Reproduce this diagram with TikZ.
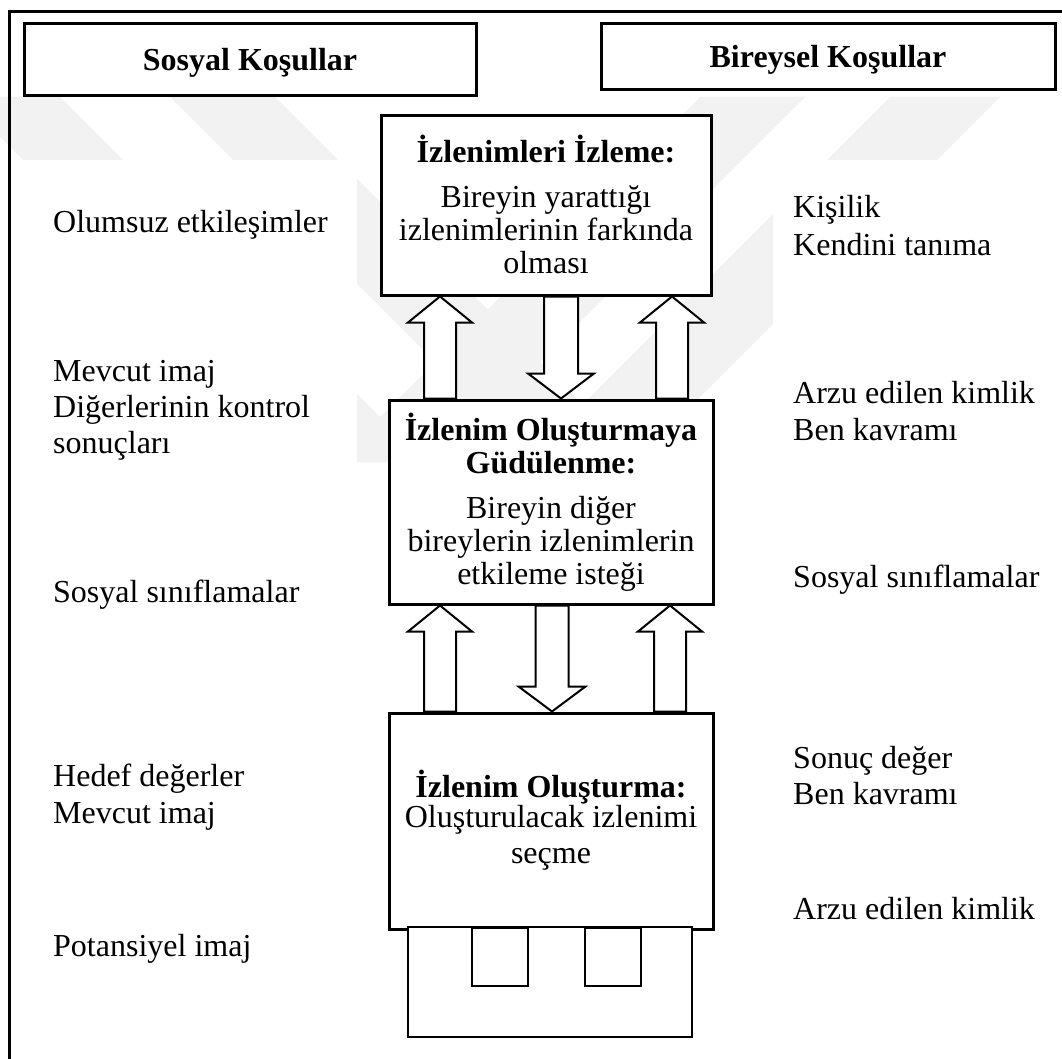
\documentclass[tikz,border=0pt]{standalone}
\usepackage{fontspec}
\setmainfont{Liberation Serif}
\usetikzlibrary{calc}

\tikzset{
  frameline/.style={line width=3pt},
  headbox/.style={draw, line width=3pt, fill=white, inner sep=0pt},
  stagebox/.style={draw, line width=3pt, fill=white, inner sep=0pt},
  stagetext/.style={align=center, inner sep=0pt, font=\fontsize{32}{33}\selectfont},
  sidelabel/.style={anchor=base west, inner sep=0pt, font=\fontsize{32}{36}\selectfont},
  headtext/.style={anchor=base, inner sep=0pt, font=\fontsize{32}{36}\selectfont\bfseries},
  blockarrow/.style={draw, line width=2pt, fill=white, line join=miter},
  basebox/.style={draw, line width=2pt, fill=white},
  wmark/.style={fill=black!5, draw=none},
}

% hollow block arrow pointing up: #1 base point, #2 tip point,
% #3 half shaft width, #4 half head width, #5 head length
\newcommand\blkup[5]{%
  \draw[blockarrow] let \p1=(#1), \p2=(#2) in
    (\x1-#3,\y1) -- (\x1-#3,\y2-#5) -- (\x1-#4,\y2-#5) -- (\x1,\y2)
    -- (\x1+#4,\y2-#5) -- (\x1+#3,\y2-#5) -- (\x1+#3,\y1) -- cycle;}
% hollow block arrow pointing down
\newcommand\blkdown[5]{%
  \draw[blockarrow] let \p1=(#1), \p2=(#2) in
    (\x1-#3,\y1) -- (\x1-#3,\y2+#5) -- (\x1-#4,\y2+#5) -- (\x1,\y2)
    -- (\x1+#4,\y2+#5) -- (\x1+#3,\y2+#5) -- (\x1+#3,\y1) -- cycle;}

\begin{document}
\begin{tikzpicture}[x=1pt, y=-1pt]
\useasboundingbox (0,0) rectangle (1062,1059);

% faint diagonal background watermark
\begin{scope}
  \clip (0,97) rectangle (1062,160) (357,97) rectangle (773,462);
  \fill[wmark] (-40,97) -- (60,97) -- (425,462) -- (325,462) -- cycle;
  \fill[wmark] (170,97) -- (275,97) -- (640,462) -- (535,462) -- cycle;
  \fill[wmark] (700,97) -- (805,97) -- (440,462) -- (335,462) -- cycle;
  \fill[wmark] (890,97) -- (1000,97) -- (635,462) -- (525,462) -- cycle;
\end{scope}

% outer frame (left and top edges)
\draw[frameline] (9,1059) -- (9,12) -- (1062,12);

% column headers
\node[headbox, minimum width=452pt, minimum height=72pt] (hsoc) at (250,60) {};
\node[headtext] (hsoct) at (250,71) {Sosyal Koşullar};
\node[headbox, minimum width=454pt, minimum height=66pt] (hind) at (828,57) {};
\node[headtext] (hindt) at (828,68) {Bireysel Koşullar};

% three stages
\node[stagebox, minimum width=330pt, minimum height=179pt] (top) at (546,205.5) {};
\node[stagetext] (topt) at (546,204) {\textbf{İzlenimleri İzleme:}\\[12pt]
  Bireyin yarattığı\\ izlenimlerinin farkında\\ olması};

\node[stagebox, minimum width=324pt, minimum height=204pt] (mid) at (551,502) {};
\node[stagetext] (midt) at (551,502) {\textbf{İzlenim Oluşturmaya}\\ \textbf{Güdülenme:}\\[12pt]
  Bireyin diğer\\ bireylerin izlenimlerin\\ etkileme isteği};

\node[stagebox, minimum width=324pt, minimum height=216pt] (bot) at (551,821) {};
\node[stagetext] (bott) at (551,820) {\textbf{İzlenim Oluşturma:}\\[-3pt]
  Oluşturulacak izlenimi\\[3pt] seçme};

% base block under the last stage
\node[basebox, minimum width=284pt, minimum height=110pt, inner sep=0pt] (base) at (550,982) {};
\node[basebox, minimum width=56pt, minimum height=58pt, inner sep=0pt, anchor=north] (slot1) at (500,927) {};
\node[basebox, minimum width=56pt, minimum height=58pt, inner sep=0pt, anchor=north] (slot2) at (613,927) {};

% arrows between first and second stage
\coordinate (a1b) at (440,0 |- mid.north);  \coordinate (a1t) at (440,0 |- top.south);
\coordinate (a2b) at (561,0 |- top.south);  \coordinate (a2t) at (561,0 |- mid.north);
\coordinate (a3b) at (672,0 |- mid.north);  \coordinate (a3t) at (672,0 |- top.south);
\blkup{a1b}{a1t}{16pt}{32pt}{26pt}
\blkdown{a2b}{a2t}{17pt}{33pt}{25pt}
\blkup{a3b}{a3t}{16pt}{32pt}{26pt}

% arrows between second and third stage
\coordinate (b1b) at (440,0 |- bot.north);  \coordinate (b1t) at (440,0 |- mid.south);
\coordinate (b2b) at (552,0 |- mid.south);  \coordinate (b2t) at (552,0 |- bot.north);
\coordinate (b3b) at (670,0 |- bot.north);  \coordinate (b3t) at (670,0 |- mid.south);
\blkup{b1b}{b1t}{16pt}{32pt}{26pt}
\blkdown{b2b}{b2t}{16.5pt}{33.5pt}{25pt}
\blkup{b3b}{b3t}{16pt}{32pt}{26pt}

% social conditions
\node[sidelabel] (s1)  at (53,233) {Olumsuz etkileşimler};
\node[sidelabel] (s2a) at (53,381) {Mevcut imaj};
\node[sidelabel] (s2b) at (53,417) {Diğerlerinin kontrol};
\node[sidelabel] (s2c) at (53,453) {sonuçları};
\node[sidelabel] (s3)  at (53,602) {Sosyal sınıflamalar};
\node[sidelabel] (s4a) at (53,786) {Hedef değerler};
\node[sidelabel] (s4b) at (53,823) {Mevcut imaj};
\node[sidelabel] (s5)  at (53,956) {Potansiyel imaj};

% individual conditions
\node[sidelabel] (i1a) at (793,218) {Kişilik};
\node[sidelabel] (i1b) at (793,256) {Kendini tanıma};
\node[sidelabel] (i2a) at (793,403) {Arzu edilen kimlik};
\node[sidelabel] (i2b) at (793,440) {Ben kavramı};
\node[sidelabel] (i3)  at (793,587) {Sosyal sınıflamalar};
\node[sidelabel] (i4a) at (793,768) {Sonuç değer};
\node[sidelabel] (i4b) at (793,804) {Ben kavramı};
\node[sidelabel] (i5)  at (793,919) {Arzu edilen kimlik};
\end{tikzpicture}
\end{document}
